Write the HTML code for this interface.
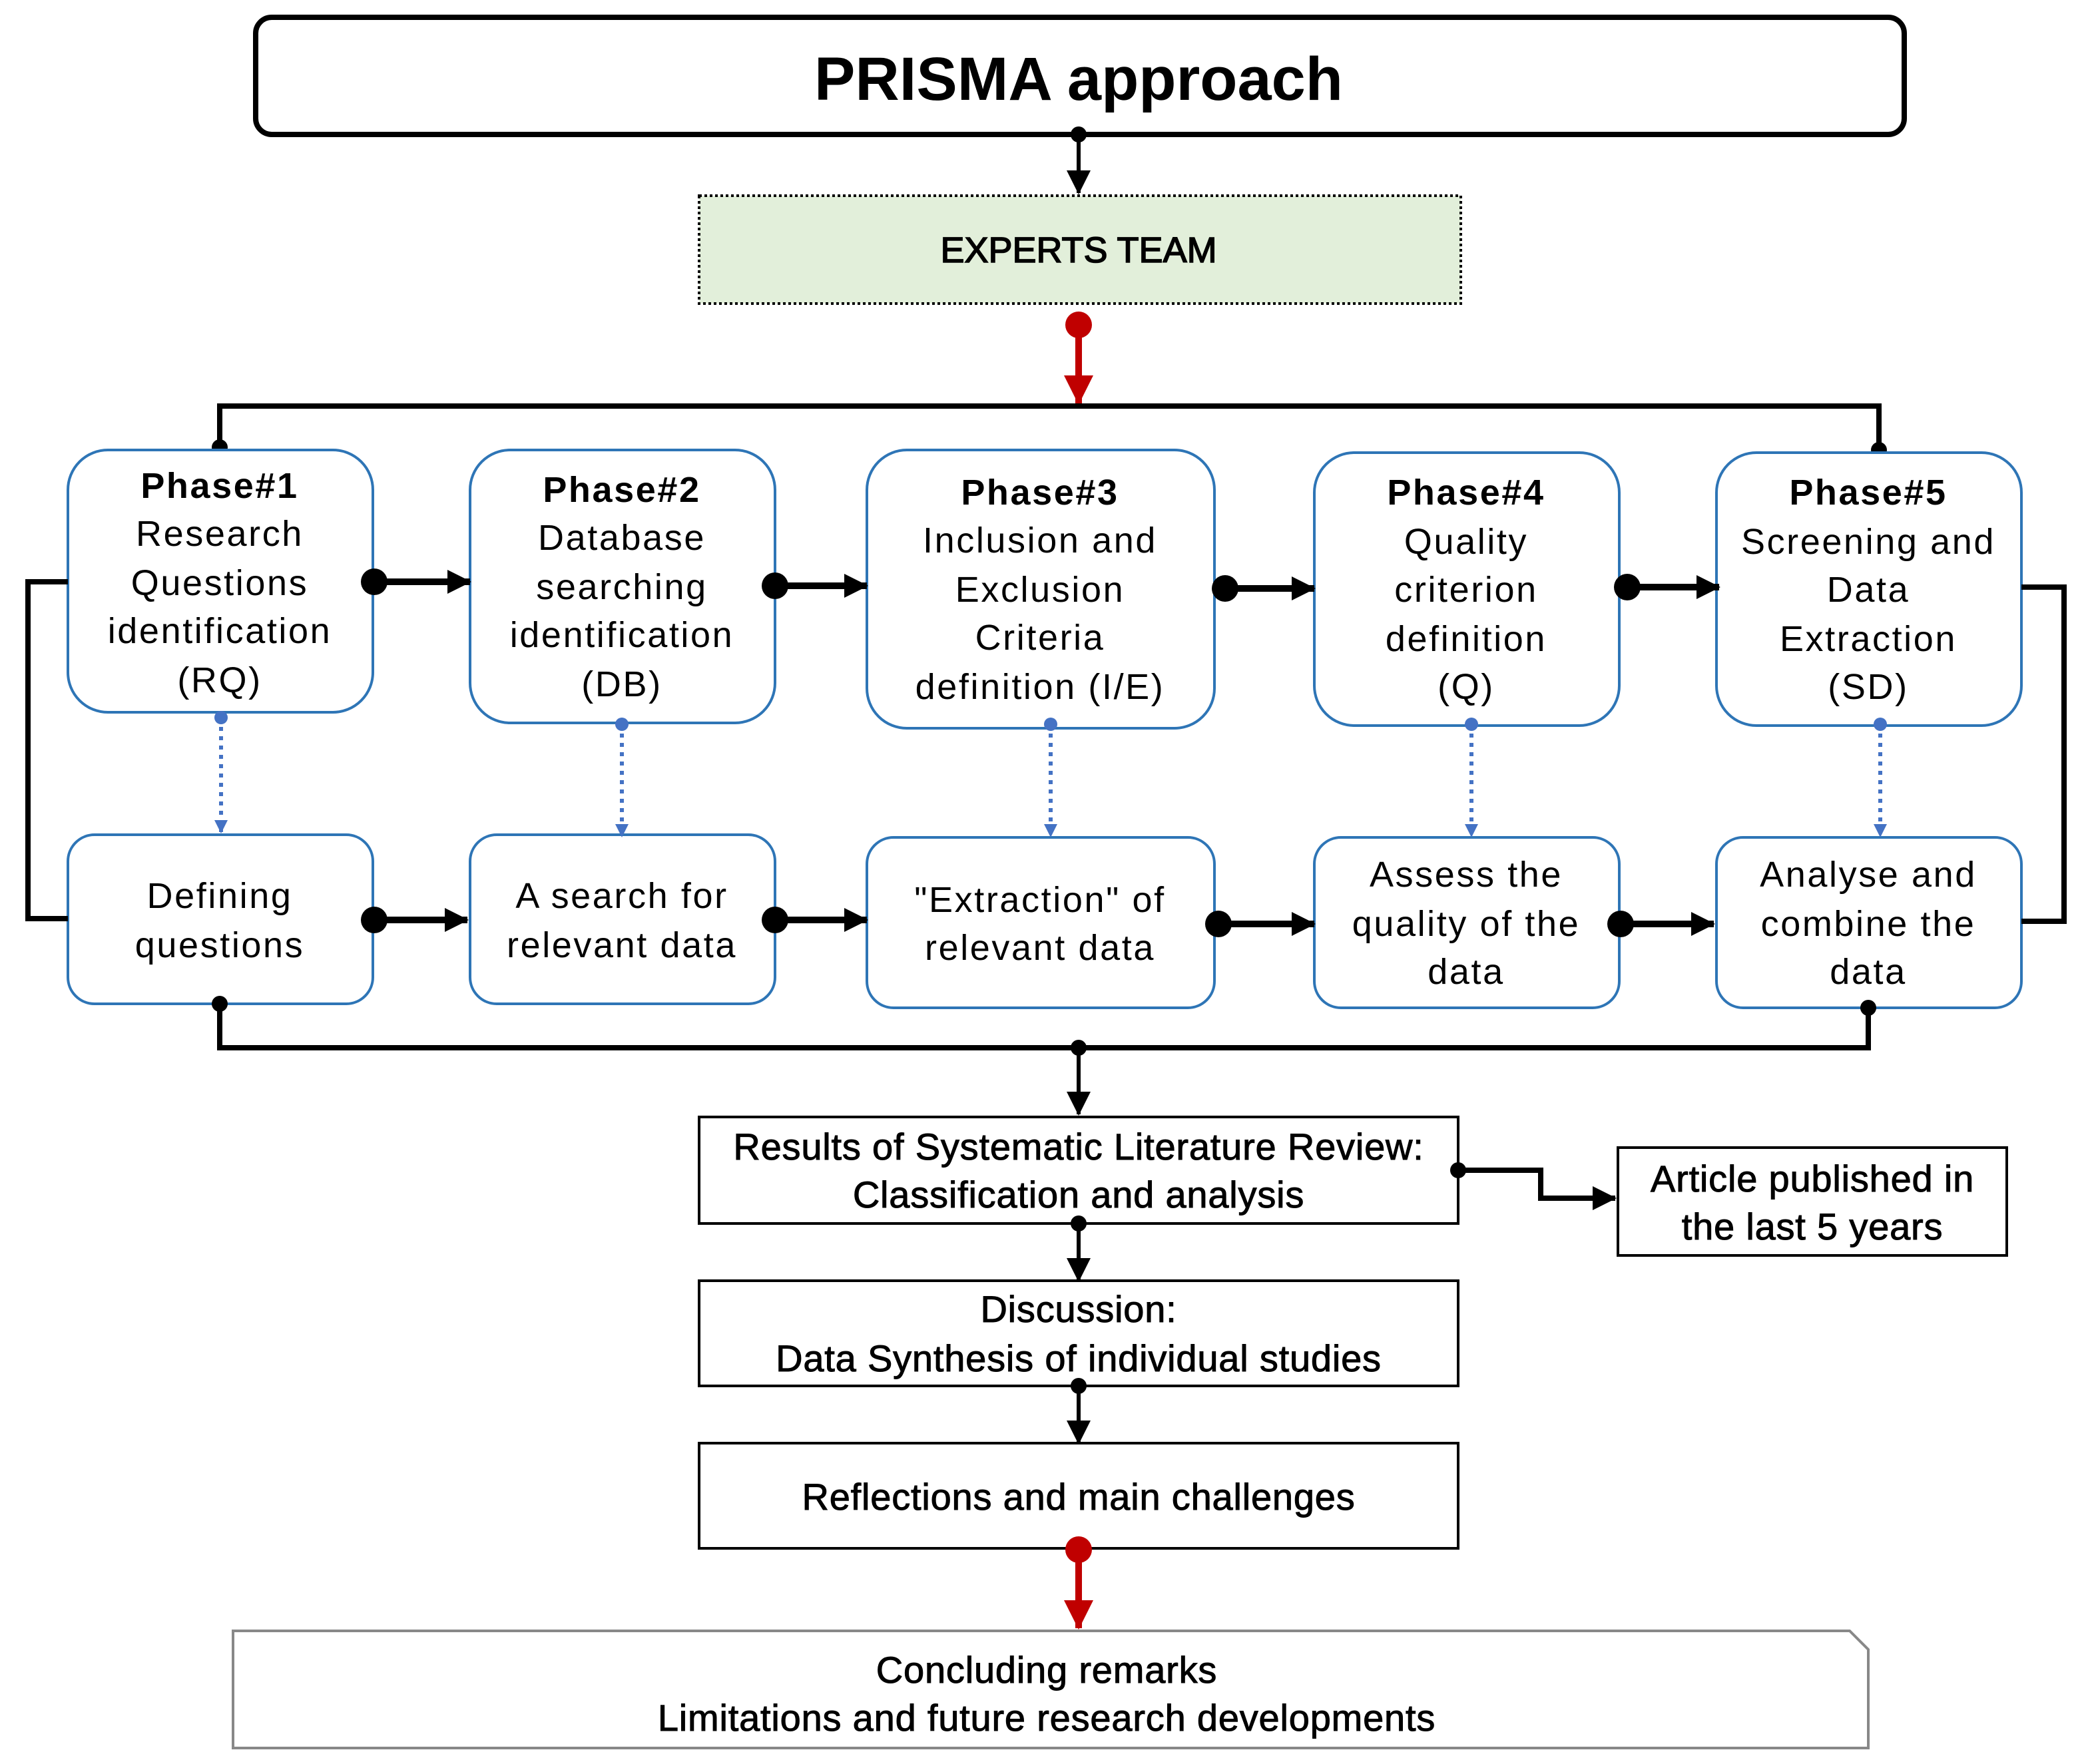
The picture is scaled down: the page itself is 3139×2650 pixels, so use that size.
<!DOCTYPE html>
<html><head><meta charset="utf-8"><style>
html,body{margin:0;padding:0;background:#fff}
svg{display:block}
text{font-family:"Liberation Sans",sans-serif;fill:#000;text-anchor:middle}
.p{font-size:27px;letter-spacing:1.3px}
.b{font-size:28px;stroke:#000;stroke-width:0.5;letter-spacing:0.4px}
</style></head><body>
<svg width="3139" height="2650" viewBox="0 0 1569.5 1325" xmlns="http://www.w3.org/2000/svg">
<defs>
<marker id="ab2" markerWidth="18" markerHeight="18" refX="17" refY="9" orient="auto" markerUnits="userSpaceOnUse"><path d="M0,0 L18,9 L0,18z" fill="#000"/></marker>
<marker id="ar" markerWidth="22" markerHeight="22" refX="21" refY="11" orient="auto" markerUnits="userSpaceOnUse"><path d="M0,0 L22,11 L0,22z" fill="#c00000"/></marker>
<marker id="abl" markerWidth="10" markerHeight="10" refX="9" refY="5" orient="auto" markerUnits="userSpaceOnUse"><path d="M0,0 L10,5 L0,10z" fill="#4472c4"/></marker>
</defs>
<rect x="192" y="13" width="1238" height="88" rx="12" fill="#fff" stroke="#000" stroke-width="4"/>
<text x="810" y="75" style="font-size:46px;font-weight:bold">PRISMA approach</text>
<circle cx="810" cy="101" r="6"/>
<line x1="810" y1="101" x2="810" y2="145" stroke="#000" stroke-width="3" marker-end="url(#ab2)"/>
<rect x="525" y="147" width="572" height="81" fill="#e2efda" stroke="#000" stroke-width="2" stroke-dasharray="2,2"/>
<text x="810" y="197" style="font-size:27px;stroke:#000;stroke-width:0.8">EXPERTS TEAM</text>
<circle cx="810" cy="244" r="10" fill="#c00000"/>
<line x1="810" y1="244" x2="810" y2="303" stroke="#c00000" stroke-width="5" marker-end="url(#ar)"/>
<path d="M165 336 V305 H1411 V338" fill="none" stroke="#000" stroke-width="4"/>
<circle cx="165" cy="336" r="6"/><circle cx="1411" cy="338" r="6"/>
<g fill="#fff" stroke="#2e75b6" stroke-width="2">
<rect x="51" y="338" width="229" height="197" rx="30"/>
<rect x="353" y="338" width="229" height="205" rx="30"/>
<rect x="651" y="338" width="261" height="209" rx="30"/>
<rect x="987" y="340" width="229" height="205" rx="30"/>
<rect x="1289" y="340" width="229" height="205" rx="30"/>
<rect x="51" y="627" width="229" height="127" rx="20"/>
<rect x="353" y="627" width="229" height="127" rx="20"/>
<rect x="651" y="629" width="261" height="128" rx="20"/>
<rect x="987" y="629" width="229" height="128" rx="20"/>
<rect x="1289" y="629" width="229" height="128" rx="20"/>
</g>
<g>
<text x="165" y="374" class="p" style="font-weight:bold">Phase#1</text>
<text x="165" y="410" class="p">Research</text><text x="165" y="447" class="p">Questions</text><text x="165" y="483" class="p">identification</text><text x="165" y="520" class="p">(RQ)</text>
<text x="467" y="377" class="p" style="font-weight:bold">Phase#2</text>
<text x="467" y="413" class="p">Database</text><text x="467" y="450" class="p">searching</text><text x="467" y="486" class="p">identification</text><text x="467" y="523" class="p">(DB)</text>
<text x="781" y="379" class="p" style="font-weight:bold">Phase#3</text>
<text x="781" y="415" class="p">Inclusion and</text><text x="781" y="452" class="p">Exclusion</text><text x="781" y="488" class="p">Criteria</text><text x="781" y="525" class="p">definition (I/E)</text>
<text x="1101" y="379" class="p" style="font-weight:bold">Phase#4</text>
<text x="1101" y="416" class="p">Quality</text><text x="1101" y="452" class="p">criterion</text><text x="1101" y="489" class="p">definition</text><text x="1101" y="525" class="p">(Q)</text>
<text x="1403" y="379" class="p" style="font-weight:bold">Phase#5</text>
<text x="1403" y="416" class="p">Screening and</text><text x="1403" y="452" class="p">Data</text><text x="1403" y="489" class="p">Extraction</text><text x="1403" y="525" class="p">(SD)</text>
<text x="165" y="682" class="p">Defining</text><text x="165" y="719" class="p">questions</text>
<text x="467" y="682" class="p">A search for</text><text x="467" y="719" class="p">relevant data</text>
<text x="781" y="685" class="p">"Extraction" of</text><text x="781" y="721" class="p">relevant data</text>
<text x="1101" y="666" class="p">Assess the</text><text x="1101" y="703" class="p">quality of the</text><text x="1101" y="739" class="p">data</text>
<text x="1403" y="666" class="p">Analyse and</text><text x="1403" y="703" class="p">combine the</text><text x="1403" y="739" class="p">data</text>
</g>
<g stroke="#000" stroke-width="5">
<line x1="281" y1="437" x2="353" y2="437" marker-end="url(#ab2)"/>
<line x1="582" y1="440" x2="651" y2="440" marker-end="url(#ab2)"/>
<line x1="920" y1="442" x2="987" y2="442" marker-end="url(#ab2)"/>
<line x1="1222" y1="441" x2="1291" y2="441" marker-end="url(#ab2)"/>
<line x1="281" y1="691" x2="351" y2="691" marker-end="url(#ab2)"/>
<line x1="582" y1="691" x2="651" y2="691" marker-end="url(#ab2)"/>
<line x1="915" y1="694" x2="987" y2="694" marker-end="url(#ab2)"/>
<line x1="1217" y1="694" x2="1287" y2="694" marker-end="url(#ab2)"/>
</g>
<g>
<circle cx="281" cy="437" r="10"/><circle cx="582" cy="440" r="10"/><circle cx="920" cy="442" r="10"/><circle cx="1222" cy="441" r="10"/>
<circle cx="281" cy="691" r="10"/><circle cx="582" cy="691" r="10"/><circle cx="915" cy="694" r="10"/><circle cx="1217" cy="694" r="10"/>
</g>
<g stroke="#4472c4" stroke-width="3" stroke-dasharray="3,4" fill="none">
<line x1="166" y1="539" x2="166" y2="625" marker-end="url(#abl)"/>
<line x1="467" y1="544" x2="467" y2="628" marker-end="url(#abl)"/>
<line x1="789" y1="544" x2="789" y2="628" marker-end="url(#abl)"/>
<line x1="1105" y1="544" x2="1105" y2="628" marker-end="url(#abl)"/>
<line x1="1412" y1="544" x2="1412" y2="628" marker-end="url(#abl)"/>
</g>
<g fill="#4472c4"><circle cx="166" cy="539" r="5"/><circle cx="467" cy="544" r="5"/><circle cx="789" cy="544" r="5"/><circle cx="1105" cy="544" r="5"/><circle cx="1412" cy="544" r="5"/></g>
<path d="M51 437 H21 V690 H51" fill="none" stroke="#000" stroke-width="4"/>
<path d="M1518 441 H1550 V692 H1518" fill="none" stroke="#000" stroke-width="4"/>
<path d="M165 754 V787 H1403 V757" fill="none" stroke="#000" stroke-width="4"/>
<circle cx="165" cy="754" r="6"/><circle cx="1403" cy="757" r="6"/><circle cx="810" cy="787" r="6"/>
<line x1="810" y1="787" x2="810" y2="837" stroke="#000" stroke-width="3" marker-end="url(#ab2)"/>
<rect x="525" y="839" width="570" height="80" fill="#fff" stroke="#000" stroke-width="2"/>
<text x="810" y="871" class="b">Results of Systematic Literature Review:</text>
<text x="810" y="907" class="b">Classification and analysis</text>
<circle cx="1095" cy="879" r="6"/>
<path d="M1095 879 H1157 V900 H1213" fill="none" stroke="#000" stroke-width="4" marker-end="url(#ab2)"/>
<rect x="1215" y="862" width="292" height="81" fill="#fff" stroke="#000" stroke-width="2"/>
<text x="1361" y="895" class="b">Article published in</text>
<text x="1361" y="931" class="b">the last 5 years</text>
<circle cx="810" cy="919" r="6"/>
<line x1="810" y1="919" x2="810" y2="962" stroke="#000" stroke-width="3" marker-end="url(#ab2)"/>
<rect x="525" y="962" width="570" height="79" fill="#fff" stroke="#000" stroke-width="2"/>
<text x="810" y="993" class="b">Discussion:</text>
<text x="810" y="1030" class="b">Data Synthesis of individual studies</text>
<circle cx="810" cy="1041" r="6"/>
<line x1="810" y1="1041" x2="810" y2="1084" stroke="#000" stroke-width="3" marker-end="url(#ab2)"/>
<rect x="525" y="1084" width="570" height="79" fill="#fff" stroke="#000" stroke-width="2"/>
<text x="810" y="1134" class="b">Reflections and main challenges</text>
<circle cx="810" cy="1164" r="10" fill="#c00000"/>
<line x1="810" y1="1164" x2="810" y2="1223" stroke="#c00000" stroke-width="5" marker-end="url(#ar)"/>
<path d="M175 1225 H1389 L1403 1239 V1313 H175 Z" fill="#fff" stroke="#888" stroke-width="2"/>
<text x="786" y="1264" class="b">Concluding remarks</text>
<text x="786" y="1300" class="b">Limitations and future research developments</text>
</svg>
</body></html>
